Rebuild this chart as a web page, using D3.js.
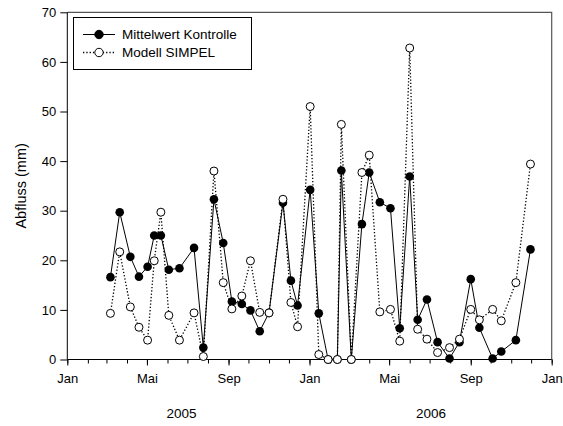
<!DOCTYPE html>
<html>
<head>
<meta charset="utf-8">
<script src="https://cdn.jsdelivr.net/npm/d3@7"></script>
<style>
  html, body { margin: 0; padding: 0; background: #fff; }
  svg { display: block; font-family: "Liberation Sans", Arial, sans-serif; }
</style>
</head>
<body>
<svg id="chart" width="563" height="426"></svg>
<script>
// Sampling dates (roughly fortnightly, 2005–2006)
const sampleDates = [
  "2005-03-07", "2005-03-21", "2005-04-06", "2005-04-19", "2005-05-02", "2005-05-12",
  "2005-05-22", "2005-06-03", "2005-06-19", "2005-07-11", "2005-07-25", "2005-08-10",
  "2005-08-24", "2005-09-06", "2005-09-21", "2005-10-04", "2005-10-18", "2005-11-01",
  "2005-11-22", "2005-12-04", "2005-12-14",
  "2006-01-02", "2006-01-15", "2006-01-29", "2006-02-12", "2006-02-18", "2006-03-05",
  "2006-03-21", "2006-04-01", "2006-04-17", "2006-05-03", "2006-05-17", "2006-06-01",
  "2006-06-13", "2006-06-27", "2006-07-13", "2006-07-31", "2006-08-15", "2006-09-01",
  "2006-09-14", "2006-10-04", "2006-10-17", "2006-11-08", "2006-11-30"
];

// Measured runoff, mean of control plots (mm)
const kontrolle = [
  16.6, 29.7, 20.7, 16.7, 18.7, 25.0, 25.0, 18.1, 18.4, 22.5, 2.4, 32.3,
  23.5, 11.7, 11.2, 9.9, 5.7, 9.4, 31.6, 15.9, 10.9,
  34.2, 9.3, 0, 0, 38.1, 0, 27.3, 37.7, 31.7, 30.5, 6.3, 36.9,
  8.0, 12.1, 3.5, 0.2, 3.5, 16.2, 6.4, 0.2, 1.6, 3.9, 22.2
];

// Simulated runoff, SIMPEL model (mm)
const simpel = [
  9.3, 21.7, 10.6, 6.5, 3.9, 19.9, 29.7, 8.9, 3.9, 9.4, 0.6, 38.0,
  15.5, 10.2, 12.8, 19.9, 9.5, 9.4, 32.3, 11.5, 6.6,
  51.0, 1.0, 0, 0, 47.4, 0, 37.7, 41.2, 9.6, 10.1, 3.7, 62.8,
  6.1, 4.1, 1.4, 2.4, 4.1, 10.1, 8.0, 10.1, 7.8, 15.5, 39.4
];

const seriesNames = ["Mittelwert Kontrolle", "Modell SIMPEL"];
const monthLabels = ["Jan", "Feb", "Mär", "Apr", "Mai", "Jun", "Jul", "Aug", "Sep", "Okt", "Nov", "Dez"];
const yTicks = [0, 10, 20, 30, 40, 50, 60, 70];
const yearLabels = [
  { year: "2005", at: "2005-06-22" },
  { year: "2006", at: "2006-07-03" }
];
const yTitle = "Abfluss (mm)";

const parse = d3.timeParse("%Y-%m-%d");
const dates = sampleDates.map(parse);

const svg = d3.select("#chart");
const plotLeft = 67.3, plotRight = 551.7, plotTop = 12.3, plotBottom = 359.5;

const x = d3.scaleTime()
  .domain([new Date(2005, 0, 1), new Date(2007, 0, 1)])
  .range([plotLeft, plotRight]);
const y = d3.scaleLinear().domain([0, 70]).range([plotBottom, plotTop]);

// Frame: top and right edges
svg.append("path")
  .attr("d", `M${plotLeft},${plotTop}H${plotRight}V${plotBottom}`)
  .attr("fill", "none").attr("stroke", "#555").attr("stroke-width", 1.2);

// Minor x ticks (monthly)
const xMinor = svg.append("g").attr("transform", `translate(0,${plotBottom})`)
  .call(d3.axisBottom(x).ticks(d3.timeMonth.every(1)).tickSize(4).tickFormat(""));
xMinor.select(".domain").remove();

// Major x ticks (every four months)
const xMajor = svg.append("g").attr("transform", `translate(0,${plotBottom})`)
  .call(d3.axisBottom(x).ticks(d3.timeMonth.every(4)).tickSize(6).tickPadding(8)
    .tickFormat(d => monthLabels[d.getMonth()]));
xMajor.select(".domain").attr("stroke", "#000").attr("d", `M${plotLeft},0H${plotRight}`);
xMajor.selectAll("text").attr("font-size", 13).attr("fill", "#000")
  .attr("font-family", "Liberation Sans, Arial, sans-serif");
svg.selectAll(".tick line").attr("stroke", "#000");

// Y axis
const yAxis = svg.append("g").attr("transform", `translate(${plotLeft},0)`)
  .call(d3.axisLeft(y).tickValues(yTicks).tickSize(7).tickPadding(4));
yAxis.select(".domain").attr("stroke", "#000").attr("d", `M0,${plotBottom}V${plotTop}`);
yAxis.selectAll("text").attr("font-size", 13).attr("fill", "#000")
  .attr("font-family", "Liberation Sans, Arial, sans-serif");
yAxis.selectAll(".tick line").attr("stroke", "#000");

// Year labels under the month ticks
svg.selectAll(".year").data(yearLabels).enter().append("text")
  .attr("class", "year")
  .attr("x", d => x(parse(d.at)))
  .attr("y", 418)
  .attr("text-anchor", "middle")
  .attr("font-size", 13.5)
  .text(d => d.year);

// Y axis title
svg.append("text")
  .attr("transform", `translate(26,${(plotTop + plotBottom) / 2}) rotate(-90)`)
  .attr("text-anchor", "middle")
  .attr("font-size", 14.5)
  .text(yTitle);

const rows = dates.map((d, i) => ({ date: d, k: kontrolle[i], s: simpel[i] }));

const lineK = d3.line().x(d => x(d.date)).y(d => y(d.k));
const lineS = d3.line().x(d => x(d.date)).y(d => y(d.s));

// Model line (dotted) and measured line (solid)
svg.append("path").datum(rows).attr("d", lineS)
  .attr("fill", "none").attr("stroke", "#000").attr("stroke-width", 1.3)
  .attr("stroke-dasharray", "1.3,2");
svg.append("path").datum(rows).attr("d", lineK)
  .attr("fill", "none").attr("stroke", "#000").attr("stroke-width", 1);

// Markers
svg.append("g").selectAll("circle").data(rows).enter().append("circle")
  .attr("cx", d => x(d.date)).attr("cy", d => y(d.k)).attr("r", 4.3)
  .attr("fill", "#000");
svg.append("g").selectAll("circle").data(rows).enter().append("circle")
  .attr("cx", d => x(d.date)).attr("cy", d => y(d.s)).attr("r", 4)
  .attr("fill", "#fff").attr("stroke", "#000").attr("stroke-width", 1);

// Legend
const legend = svg.append("g");
legend.append("rect").attr("x", 73.5).attr("y", 17.5).attr("width", 178).attr("height", 52)
  .attr("fill", "#fff").attr("stroke", "#000").attr("stroke-width", 1);
const legendRows = [
  { name: seriesNames[0], dash: null, fill: "#000", cy: 34.5 },
  { name: seriesNames[1], dash: "1.3,2", fill: "#fff", cy: 52.5 }
];
legendRows.forEach(r => {
  legend.append("line").attr("x1", 83).attr("x2", 115).attr("y1", r.cy).attr("y2", r.cy)
    .attr("stroke", "#000").attr("stroke-width", r.dash ? 1.3 : 1)
    .attr("stroke-dasharray", r.dash);
  legend.append("circle").attr("cx", 99).attr("cy", r.cy).attr("r", 4.2)
    .attr("fill", r.fill).attr("stroke", "#000");
  legend.append("text").attr("x", 122).attr("y", r.cy + 4.8)
    .attr("font-size", 13.5).text(r.name);
});
</script>
</body>
</html>
